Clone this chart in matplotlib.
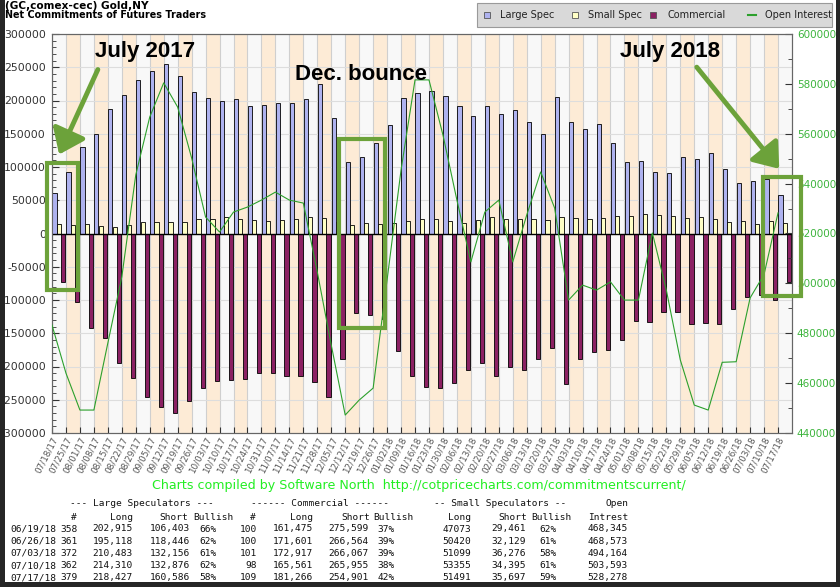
import matplotlib
matplotlib.use("Agg")
import matplotlib.pyplot as plt
from matplotlib.patches import Rectangle, FancyArrowPatch
from matplotlib.ticker import MultipleLocator, FuncFormatter
import numpy as np

# ---- weekly data ----
dates = ['07/18/17','07/25/17','08/01/17','08/08/17','08/15/17','08/22/17','08/29/17',
         '09/05/17','09/12/17','09/19/17','09/26/17','10/03/17','10/10/17','10/17/17',
         '10/24/17','10/31/17','11/07/17','11/14/17','11/21/17','11/28/17','12/05/17',
         '12/12/17','12/19/17','12/26/17','01/02/18','01/09/18','01/16/18','01/23/18',
         '01/30/18','02/06/18','02/13/18','02/20/18','02/27/18','03/06/18','03/13/18',
         '03/20/18','03/27/18','04/03/18','04/10/18','04/17/18','04/24/18','05/01/18',
         '05/08/18','05/15/18','05/22/18','05/29/18','06/05/18','06/12/18','06/19/18',
         '06/26/18','07/03/18','07/10/18','07/17/18']

large_spec = [61000, 92500, 130000, 150000, 187000, 208000, 231000, 245000, 255000, 237000,
              213000, 204000, 200000, 202000, 191000, 193000, 196000, 196000, 202000, 225000,
              174000, 107500, 115000, 136500, 163000, 204000, 212000, 215000, 207000, 192000,
              177000, 192000, 180000, 186000, 168000, 150000, 205000, 168000, 157000, 164000,
              136500, 107500, 109000, 93000, 91500, 115500, 112000, 121000, 96512, 76672,
              78327, 81434, 57841]

small_spec = [14300, 12800, 14300, 11300, 9800, 12800, 17800, 16800, 17800, 17800,
              21300, 21300, 24300, 21300, 19800, 18300, 19800, 21300, 24300, 22800,
              16800, 12800, 15800, 14300, 15800, 18300, 21300, 21300, 18300, 15800,
              19800, 24300, 21300, 21300, 21300, 19800, 24300, 22800, 21300, 22800,
              25800, 25800, 28800, 27300, 25800, 22800, 24300, 21300, 17612, 18291,
              14823, 18960, 15794]

commercial = [-73000, -102500, -141600, -157700, -195300, -217800, -246400, -260500, -270400, -252000,
              -232000, -221800, -220800, -219300, -209300, -209300, -213800, -213800, -223800, -245400,
              -188700, -120000, -123000, -128000, -176000, -215000, -231000, -232000, -225000, -206000,
              -195000, -214000, -201000, -205000, -188000, -172000, -227000, -189000, -178000, -175000,
              -160000, -131000, -133000, -118000, -118000, -136000, -134000, -136000, -114124, -94963,
              -93150, -100394, -73635]

open_interest = [483300, 464000, 449200, 449200, 476100, 502600, 543500, 566700, 580400, 570700,
                 550300, 526600, 520600, 528600, 530600, 533400, 536600, 533400, 532200, 504600,
                 475300, 447200, 453200, 458000, 501400, 545500, 581600, 581600, 559500, 533400,
                 508600, 528600, 533400, 508600, 527400, 544700, 530200, 493300, 499300, 497300,
                 500600, 493300, 493300, 520200, 497300, 469300, 451200, 449200, 468345, 468573,
                 494164, 503593, 528278]

# ---- table at the bottom ----
tbl_dates = ['06/19/18', '06/26/18', '07/03/18', '07/10/18', '07/17/18']
ls_n = [358, 361, 372, 362, 379]
ls_long = [202915, 195118, 210483, 214310, 218427]
ls_short = [106403, 118446, 132156, 132876, 160586]
ls_bull = [66, 62, 61, 62, 58]
cm_n = [100, 100, 101, 98, 109]
cm_long = [161475, 171601, 172917, 165561, 181266]
cm_short = [275599, 266564, 266067, 265955, 254901]
cm_bull = [37, 39, 39, 38, 42]
ss_long = [47073, 50420, 51099, 53355, 51491]
ss_short = [29461, 32129, 36276, 34395, 35697]
ss_bull = [62, 61, 58, 61, 59]
oi_tbl = [468345, 468573, 494164, 503593, 528278]

W, H = 840, 587
def fx(px): return px / W
def fy(py): return 1 - py / H

GREEN_ANN = '#6ca23a'
PEACH = '#fdebd6'

fig = plt.figure(figsize=(8.4, 5.87), dpi=100)
fig.patch.set_facecolor('white')
ax = fig.add_axes([fx(52), fy(433), 740 / W, 399 / H])

n = len(dates)
x = np.arange(n)
ax.set_facecolor('#f8f8f8')
for i in range(n):
    if i % 2:
        ax.axvspan(i, i + 1, color=PEACH, lw=0, zorder=0)
    ax.axvline(i, color='#cfcfcf', lw=0.8, zorder=0.5)
for v in range(-250000, 300001, 50000):
    ax.axhline(v, color='#dddddd', lw=0.8, zorder=0.6)

ax.bar(x + 0.03, large_spec, width=0.3, align='edge', color='#aeb2ef', edgecolor='black', lw=0.6, zorder=3)
ax.bar(x + 0.34, small_spec, width=0.3, align='edge', color='#ffffc6', edgecolor='black', lw=0.6, zorder=3)
ax.bar(x + 0.65, commercial, width=0.3, align='edge', color='#8b2163', edgecolor='black', lw=0.6, zorder=3)
ax.axhline(0, color='black', lw=1, zorder=4)

ax.set_xlim(0, n)
ax.set_ylim(-300000, 300000)
ax.yaxis.set_major_locator(MultipleLocator(50000))
ax.yaxis.set_minor_locator(MultipleLocator(10000))
ax.yaxis.set_major_formatter(FuncFormatter(lambda v, p: '%d' % v))
ax.set_xticks(x)
ax.set_xticklabels(dates, rotation=63, ha='right', va='top', rotation_mode='anchor',
                   fontsize=6.3, color='#555555')
ax.tick_params(axis='x', direction='in', length=4, pad=2, color='#333333')
ax.tick_params(axis='y', which='major', direction='in', length=5, labelsize=7.8, pad=4.3,
               colors='#333333')
ax.tick_params(axis='y', which='minor', direction='in', length=3, color='#333333')
for s in ax.spines.values():
    s.set_color('#666666')

ax2 = ax.twinx()
ax2.plot(x, open_interest, color='#2ca02c', lw=0.8, zorder=5)
ax2.set_ylim(440000, 600000)
ax2.yaxis.set_major_locator(MultipleLocator(20000))
ax2.yaxis.set_minor_locator(MultipleLocator(10000))
ax2.tick_params(axis='y', which='major', direction='in', length=5, labelsize=7.5,
                labelcolor='#3cb43c', color='#333333')
ax2.tick_params(axis='y', which='minor', direction='in', length=3, color='#333333')
for s in ax2.spines.values():
    s.set_color('#666666')

# ---- title ----
fig.text(fx(5), fy(6), '(GC,comex-cec) Gold,NY', fontsize=7.6, fontweight='bold', va='center')
fig.text(fx(5), fy(15), 'Net Commitments of Futures Traders', fontsize=6.9, fontweight='bold', va='center')

# ---- legend box ----
fig.patches.append(Rectangle((fx(477), fy(27)), 355 / W, 24 / H, transform=fig.transFigure,
                             facecolor='#d9d9d9', edgecolor='#9a9a9a', lw=0.8))
leg = [('Large Spec', '#aeb2ef', 487, 500), ('Small Spec', '#ffffc6', 575, 588),
       ('Commercial', '#8b2163', 653, 667)]
for lab, col, mx, tx in leg:
    fig.patches.append(Rectangle((fx(mx - 3), fy(18)), 6 / W, 6 / H, transform=fig.transFigure,
                                 facecolor=col, edgecolor='#555555', lw=0.6))
    fig.text(fx(tx), fy(15), lab, fontsize=7, va='center', color='#222222')
fig.add_artist(plt.Line2D([fx(748), fx(756)], [fy(15), fy(15)], color='#2ca02c', lw=1.5))
fig.text(fx(765), fy(15), 'Open Interest', fontsize=7, va='center', color='#222222')

# ---- annotations ----
annfont = dict(family='Liberation Sans', fontsize=16, fontweight='bold', ha='center', va='center')
fig.text(fx(145), fy(51), 'July 2017', **annfont)
fig.text(fx(361), fy(74), 'Dec. bounce', **annfont)
fig.text(fx(670), fy(51), 'July 2018', **annfont)
for (x0, y0, x1, y1) in [(47, 163, 78, 290), (339, 139, 385, 328), (763, 177, 801, 296)]:
    fig.patches.append(Rectangle((fx(x0), fy(y1)), (x1 - x0) / W, (y1 - y0) / H,
                                 transform=fig.transFigure, fill=False,
                                 edgecolor=GREEN_ANN, lw=3, zorder=20))
for (a, b) in [((99, 67), (58, 157)), ((695, 65), (781, 171))]:
    fig.add_artist(FancyArrowPatch((fx(a[0]), fy(a[1])), (fx(b[0]), fy(b[1])),
                                   transform=fig.transFigure, arrowstyle='-|>,head_length=0.8,head_width=0.6',
                                   mutation_scale=18, lw=3.5, color=GREEN_ANN, zorder=20))

# ---- credit line ----
fig.text(fx(419), fy(486), 'Charts compiled by Software North  http://cotpricecharts.com/commitmentscurrent/',
         fontsize=9.1, color='#22ee22', ha='center', va='center')

# ---- table ----
mono = dict(family='DejaVu Sans Mono', fontsize=6.8, va='center', color='#111111')
fig.text(fx(142), fy(504), '--- Large Speculators ---', ha='center', **mono)
fig.text(fx(320), fy(504), '------ Commercial ------', ha='center', **mono)
fig.text(fx(500), fy(504), '-- Small Speculators --', ha='center', **mono)
fig.text(fx(628), fy(504), 'Open', ha='right', **mono)
for txt, px in [('#', 77), ('Long', 133), ('Short', 188), ('Bullish', 233), ('#', 256),
                ('Long', 313), ('Short', 370), ('Bullish', 414), ('Long', 471), ('Short', 527),
                ('Bullish', 572), ('Intrest', 628)]:
    fig.text(fx(px), fy(517), txt, ha='right', **mono)

def c(v):
    return '{:,}'.format(v)

for r in range(len(tbl_dates)):
    py = 529 + r * 12.2
    fig.text(fx(10), fy(py), tbl_dates[r], ha='left', **mono)
    cells = [(str(ls_n[r]), 78), (c(ls_long[r]), 133), (c(ls_short[r]), 190), ('%d%%' % ls_bull[r], 217),
             (str(cm_n[r]), 257), (c(cm_long[r]), 313), (c(cm_short[r]), 369), ('%d%%' % cm_bull[r], 395),
             (str(ss_long[r]), 471), (c(ss_short[r]), 526), ('%d%%' % ss_bull[r], 557), (c(oi_tbl[r]), 628)]
    for txt, px in cells:
        fig.text(fx(px), fy(py), txt, ha='right', **mono)

# ---- dark frame ----
for (x0, y0, w, h) in [(0, 0, 5, H), (836, 0, 4, H), (0, 582, W, 5)]:
    fig.patches.append(Rectangle((fx(x0), fy(y0 + h)), w / W, h / H, transform=fig.transFigure,
                                 facecolor='#262626', edgecolor='none', zorder=50))

fig.savefig('out.png', dpi=100)
